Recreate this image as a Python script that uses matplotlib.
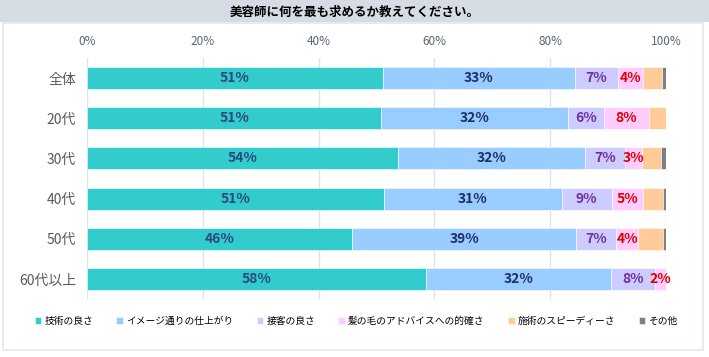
import numpy as np
import matplotlib.pyplot as plt
from matplotlib.patches import Rectangle

plt.rcParams['font.family'] = ['Noto Sans CJK JP', 'DejaVu Sans']

title = '美容師に何を最も求めるか教えてください。'
groups = ['全体', '20代', '30代', '40代', '50代', '60代以上']
series = ['技術の良さ', 'イメージ通りの仕上がり', '接客の良さ',
          '髪の毛のアドバイスへの的確さ', '施術のスピーディーさ', 'その他']
gijutsu = [51.1, 50.8, 53.7, 51.3, 45.8, 58.5]
image = [33.2, 32.3, 32.3, 30.7, 38.7, 32.0]
sekkyaku = [7.4, 6.2, 6.9, 8.6, 6.9, 7.6]
advice = [4.3, 7.8, 3.0, 5.4, 3.8, 1.9]
speedy = [3.3, 2.9, 3.2, 3.5, 4.3, 0.0]
sonota = [0.7, 0.0, 0.9, 0.5, 0.5, 0.0]
values = [gijutsu, image, sekkyaku, advice, speedy, sonota]
xticks = [0, 20, 40, 60, 80, 100]

colors = ['#33CCCC', '#99CCFF', '#CCCCFF', '#FFCCFF', '#FFCC99', '#808080']
label_colors = ['#2A4A7A', '#1F3068', '#7030A0', '#E00000', None, None]

W, H = 709, 357
fig = plt.figure(figsize=(W / 100, H / 100), dpi=100)

# title band and panel frame
fig.patches.append(Rectangle((0, 1 - 22 / H), 1, 22 / H, transform=fig.transFigure,
                             facecolor='#D6DCE4', edgecolor='none', zorder=0))
fig.patches.append(Rectangle((3 / W, 1 - 350 / H), 700 / W, 327 / H, transform=fig.transFigure,
                             facecolor='none', edgecolor='#E3E8EE', lw=1.2, zorder=0))
fig.text(0.5, 1 - 12 / H, title, ha='center', va='center', fontsize=9, fontweight='bold')

ax = fig.add_axes([87 / W, 1 - 299 / H, 579 / W, 241 / H])
y = np.arange(len(groups))
left = np.zeros(len(groups))
for i, (name, vals) in enumerate(zip(series, values)):
    vals = np.array(vals)
    ax.barh(y, vals, left=left, height=0.55, color=colors[i], label=name,
            edgecolor='white', linewidth=0.4, zorder=2)
    if label_colors[i]:
        for yi, l, v in zip(y, left, vals):
            if v >= 1.5:
                ax.text(l + v / 2, yi, f'{round(v)}%', ha='center', va='center',
                        fontsize=10, fontweight='bold', color=label_colors[i], zorder=3)
    left += vals

ax.set_xlim(0, 100)
ax.set_ylim(len(groups) - 0.5, -0.5)
ax.set_xticks(xticks, [f'{t}%' for t in xticks])
ax.xaxis.tick_top()
ax.tick_params(axis='x', length=0, pad=7, labelsize=8.5, labelcolor='#5A6475')
ax.set_yticks(y, groups)
ax.tick_params(axis='y', length=0, pad=8, labelsize=10, labelcolor='#595959')
ax.grid(axis='x', color='#DDE3EA', lw=1, zorder=0)
for s in ax.spines.values():
    s.set_visible(False)

fig.legend(loc='center', bbox_to_anchor=(356 / W, 1 - 321 / H), ncol=6, frameon=False,
           fontsize=7, handlelength=0.7, handleheight=0.7, handletextpad=0.3,
           columnspacing=2.4)

fig.savefig('out.png', dpi=100)
